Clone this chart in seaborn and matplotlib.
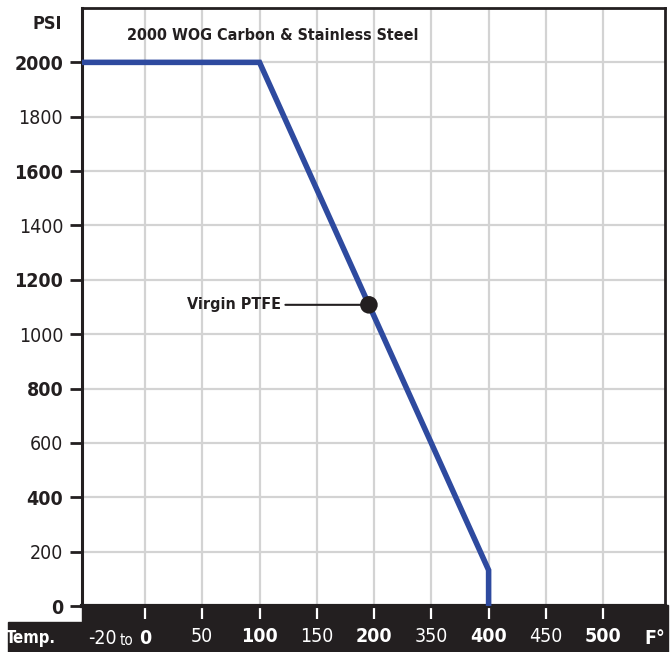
import matplotlib
matplotlib.use("Agg")
import matplotlib.pyplot as plt
import matplotlib.patches as patches
from matplotlib import font_manager
import seaborn as sns
import pandas as pd

# data
temp_labels = ["-20 to 0", "50", "100", "150", "200", "350", "400", "450", "500"]
temp_bold = [False, False, True, False, True, False, True, False, True]
psi_ticks = [0, 200, 400, 600, 800, 1000, 1200, 1400, 1600, 1800, 2000]
rating_pos = [-1.1, 2.0, 6.0, 6.0]      # position along temperature categories
rating_psi = [2000, 2000, 132, 0]
ptfe_pos = [3.91]
ptfe_psi = [1108]

LINE_BLUE = "#2e4a9f"
INK = "#231f20"

# pick a narrow face if one is installed
fonts = font_manager.fontManager.ttflist
names = {f.name for f in fonts}
stretch = "normal"
if "Liberation Sans Narrow" in names:
    family = "Liberation Sans Narrow"
elif any(f.name == "DejaVu Sans" and f.stretch == "condensed" for f in fonts):
    family, stretch = "DejaVu Sans", "condensed"
elif "Roboto Condensed" in names:
    family = "Roboto Condensed"
else:
    family = "DejaVu Sans"

sns.set_style("white")
plt.rcParams["font.family"] = [family, "DejaVu Sans"]
plt.rcParams["font.stretch"] = stretch
plt.rcParams["xtick.bottom"] = True
plt.rcParams["ytick.left"] = True

fig = plt.figure(figsize=(6.72, 6.52), dpi=100)
ax = fig.add_axes([82 / 672, 46 / 652, 583 / 672, 598 / 652])
ax.set_zorder(2)
ax.patch.set_alpha(0)

# black temperature bar under the plot
fig.patches.append(patches.Rectangle((82 / 672, 0), 586 / 672, 47 / 652,
                                     transform=fig.transFigure, color=INK, zorder=0))
fig.patches.append(patches.Rectangle((8 / 672, 0), 80 / 672, 30 / 652,
                                     transform=fig.transFigure, color=INK, zorder=0))
fig.patches.append(patches.Rectangle((82 / 672, 47 / 652), 583 / 672, 598 / 652,
                                     transform=fig.transFigure, color="white", zorder=0))

curve = pd.DataFrame({"pos": rating_pos, "psi": rating_psi})
sns.lineplot(data=curve, x="pos", y="psi", sort=False, estimator=None, ax=ax,
             color=LINE_BLUE, linewidth=4.0, solid_joinstyle="miter",
             solid_capstyle="butt", zorder=3)

ptfe = pd.DataFrame({"pos": ptfe_pos, "psi": ptfe_psi})
sns.scatterplot(data=ptfe, x="pos", y="psi", ax=ax, color=INK, s=160,
                edgecolor="none", zorder=5)
ax.annotate("Virgin PTFE", xy=(ptfe_pos[0], ptfe_psi[0]), xytext=(2.37, ptfe_psi[0]),
            textcoords="data", ha="right", va="center", fontsize=11.5, fontweight="bold",
            color=INK, arrowprops=dict(arrowstyle="-", color=INK, lw=1.5,
                                       shrinkA=1, shrinkB=0))

ax.set_xlim(-1.1, 9.08)
ax.set_ylim(0, 2200)
ax.set_xticks(range(len(temp_labels)))
ax.set_xticklabels([""] + temp_labels[1:])
ax.set_yticks(psi_ticks)
ax.set_yticklabels([str(v) for v in psi_ticks])
ax.set_xlabel("")
ax.set_ylabel("")

ax.grid(True, color="#d3d3d3", linewidth=1.6)
ax.set_axisbelow(True)

for side in ["left", "top", "right", "bottom"]:
    ax.spines[side].set_color(INK)
ax.spines["left"].set_linewidth(2.2)
ax.spines["top"].set_linewidth(2.0)
ax.spines["right"].set_linewidth(2.0)
# a heavy dark bottom edge leaves a small gap above the white ticks
ax.spines["bottom"].set_linewidth(3.0)

ax.tick_params(axis="y", which="major", left=True, direction="out", length=8.5,
               width=2.0, color=INK, pad=5, labelsize=14, labelcolor=INK)
ax.tick_params(axis="x", bottom=True, direction="out", length=9, width=1.6,
               color="white", pad=6, labelsize=14, labelcolor="white")
for lbl, psi in zip(ax.get_yticklabels(), psi_ticks):
    lbl.set_fontweight("bold" if (psi // 200) % 2 == 0 else "normal")
for lbl, b in zip(ax.get_xticklabels(), temp_bold):
    lbl.set_fontweight("bold" if b else "normal")

# first temperature label, "-20 to 0" in mixed weights
first = temp_labels[0].split()
xy0 = (0, 0)
cat_tf = ("data", "axes fraction")
ax.annotate(first[2], xy=xy0, xycoords=cat_tf, xytext=(0, -23.5),
            textcoords="offset points", ha="center", va="center", fontsize=14,
            fontweight="bold", color="white", annotation_clip=False)
ax.annotate(first[1], xy=xy0, xycoords=cat_tf, xytext=(-8.5, -24.5),
            textcoords="offset points", ha="right", va="center", fontsize=11,
            color="white", annotation_clip=False)
ax.annotate(first[0], xy=xy0, xycoords=cat_tf, xytext=(-20, -23.5),
            textcoords="offset points", ha="right", va="center", fontsize=14,
            color="white", annotation_clip=False)

ax.text(-1.1 - 0.35, 2140, "PSI", ha="right", va="center", fontsize=13,
        fontweight="bold", color=INK, clip_on=False)
ax.text(-0.31, 2100, "2000 WOG Carbon & Stainless Steel", ha="left", va="center",
        fontsize=11.5, fontweight="bold", color=INK)
ax.text(8.9, -118, "F°", ha="center", va="center", fontsize=14, fontweight="bold",
        color="white", clip_on=False)
fig.text(31 / 672, 14 / 652, "Temp.", ha="center", va="center", fontsize=12,
         fontweight="bold", color="white")

fig.savefig("out.png", dpi=100)
